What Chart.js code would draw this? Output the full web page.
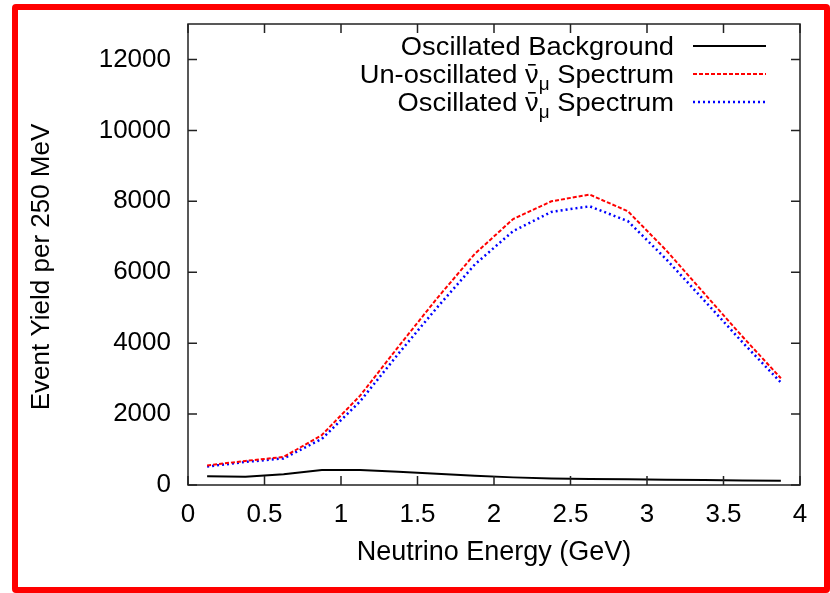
<!DOCTYPE html>
<html>
<head>
<meta charset="utf-8">
<script src="https://cdn.jsdelivr.net/npm/chart.js@4"></script>
<style>
  html, body { margin: 0; padding: 0; background: #fff; }
  #wrap { position: relative; width: 830px; height: 593px; overflow: hidden; }
  #chart { position: absolute; left: 0; top: 0; }
  #frame {
    position: absolute; left: 12px; top: 4px; width: 818px; height: 589px;
    box-sizing: border-box; border: 6px solid #ff0000; border-radius: 4px;
    pointer-events: none;
  }
</style>
</head>
<body>
<div id="wrap">
  <canvas id="chart" width="830" height="593"></canvas>
  <div id="frame"></div>
</div>
<script>
// bin centres (GeV)
const energy = [0.125, 0.375, 0.625, 0.875, 1.125, 1.375, 1.625, 1.875, 2.125, 2.375, 2.625, 2.875, 3.125, 3.375, 3.625, 3.875];
const background = [250, 235, 300, 420, 425, 375, 320, 260, 215, 185, 170, 160, 150, 140, 130, 120];
const unoscillated = [550, 680, 790, 1410, 2520, 3900, 5250, 6520, 7500, 8000, 8190, 7720, 6620, 5400, 4180, 3010];
const oscillated = [520, 650, 750, 1300, 2360, 3700, 4990, 6220, 7160, 7700, 7860, 7440, 6370, 5200, 4020, 2890];

const seriesLabels = ['Oscillated Background', 'Un-oscillated \u03BD\u0304\u03BC Spectrum', 'Oscillated \u03BD\u0304\u03BC Spectrum'];
const xTicks = [0, 0.5, 1, 1.5, 2, 2.5, 3, 3.5, 4];
const yTicks = [0, 2000, 4000, 6000, 8000, 10000, 12000];
const xTitle = 'Neutrino Energy (GeV)';
const yTitle = 'Event Yield per 250 MeV';

const FONT = 'Liberation Sans, Arial, Helvetica, sans-serif';
const STRETCH = 1.05; // the original text is a bit wider than Arial

function pts(vals) {
  return vals.map((v, i) => ({ x: energy[i], y: v }));
}

// stretched text, left aligned at x
function wideText(ctx, s, x, y) {
  ctx.save();
  ctx.translate(x, y);
  ctx.scale(STRETCH, 1);
  ctx.fillText(s, 0, 0);
  ctx.restore();
}
function wideWidth(ctx, s) {
  return ctx.measureText(s).width * STRETCH;
}

// box, inward ticks on all sides, y title, legend
const gnuplotLook = {
  id: 'gnuplotLook',
  afterDraw(chart) {
    const ctx = chart.ctx;
    const a = chart.chartArea;
    const xs = chart.scales.x, ys = chart.scales.y;
    const tl = 9;
    ctx.save();
    ctx.strokeStyle = '#222';
    ctx.lineWidth = 1.5;
    ctx.strokeRect(a.left, a.top, a.right - a.left, a.bottom - a.top);
    ctx.beginPath();
    xTicks.forEach(v => {
      const px = xs.getPixelForValue(v);
      ctx.moveTo(px, a.bottom); ctx.lineTo(px, a.bottom - tl);
      ctx.moveTo(px, a.top); ctx.lineTo(px, a.top + tl);
    });
    yTicks.forEach(v => {
      const py = ys.getPixelForValue(v);
      ctx.moveTo(a.left, py); ctx.lineTo(a.left + tl, py);
      ctx.moveTo(a.right, py); ctx.lineTo(a.right - tl, py);
    });
    ctx.stroke();

    // y title
    ctx.fillStyle = '#000';
    ctx.font = '26px ' + FONT;
    ctx.textAlign = 'center';
    ctx.textBaseline = 'middle';
    ctx.translate(42, 267);
    ctx.rotate(-Math.PI / 2);
    ctx.fillText(yTitle, 0, 0);
    ctx.restore();

    // legend, right aligned text with sample line on the right
    ctx.save();
    ctx.fillStyle = '#000';
    ctx.textBaseline = 'alphabetic';
    ctx.textAlign = 'left';
    const textRight = 674;
    const rowY = [46, 74, 102];
    chart.data.datasets.forEach((ds, i) => {
      const y = rowY[i];
      const base = y + 9;
      const label = ds.label;
      const k = label.indexOf('\u03BD\u0304');
      if (k < 0) {
        ctx.font = '26px ' + FONT;
        wideText(ctx, label, textRight - wideWidth(ctx, label), base);
      } else {
        // "pre" + nu with bar + subscript mu + "post"
        const pre = label.slice(0, k), nu = '\u03BD', sub = label.slice(k + 2, k + 3), post = label.slice(k + 3);
        ctx.font = '26px ' + FONT;
        const wPre = wideWidth(ctx, pre), wNu = wideWidth(ctx, nu), wPost = wideWidth(ctx, post);
        ctx.font = '18px ' + FONT;
        const wSub = wideWidth(ctx, sub);
        let x = textRight - wPost - wSub - wNu - wPre;
        ctx.font = '26px ' + FONT;
        wideText(ctx, pre, x, base);
        x += wPre;
        wideText(ctx, nu, x, base);
        ctx.fillRect(x + 3, base - 19, wNu - 6, 1.6);
        x += wNu;
        ctx.font = '18px ' + FONT;
        wideText(ctx, sub, x, base + 7);
        x += wSub;
        ctx.font = '26px ' + FONT;
        wideText(ctx, post, x, base);
      }
      ctx.beginPath();
      ctx.strokeStyle = ds.borderColor;
      ctx.lineWidth = ds.borderWidth;
      ctx.setLineDash(ds.borderDash || []);
      ctx.moveTo(693, y);
      ctx.lineTo(766, y);
      ctx.stroke();
    });
    ctx.restore();
  }
};

new Chart(document.getElementById('chart').getContext('2d'), {
  type: 'line',
  data: {
    datasets: [
      {
        label: seriesLabels[0],
        data: pts(background),
        borderColor: '#000000',
        borderWidth: 2,
        pointRadius: 0,
        tension: 0
      },
      {
        label: seriesLabels[1],
        data: pts(unoscillated),
        borderColor: '#ff0000',
        borderWidth: 2,
        borderDash: [4, 2],
        pointRadius: 0,
        tension: 0
      },
      {
        label: seriesLabels[2],
        data: pts(oscillated),
        borderColor: '#0000ff',
        borderWidth: 2.5,
        borderDash: [2, 3],
        pointRadius: 0,
        tension: 0
      }
    ]
  },
  options: {
    responsive: false,
    animation: false,
    layout: { padding: { top: 24, right: 30, left: 0, bottom: 0 } },
    plugins: {
      legend: { display: false },
      tooltip: { enabled: false }
    },
    scales: {
      x: {
        type: 'linear',
        min: 0,
        max: 4,
        afterBuildTicks: s => { s.ticks = xTicks.map(v => ({ value: v })); },
        afterFit: s => { s.height = 108; s.paddingLeft = 0; s.paddingRight = 0; },
        grid: { display: false, drawTicks: false },
        border: { display: false },
        ticks: { color: '#000', font: { family: FONT, size: 26 }, padding: 14, maxRotation: 0, callback: v => String(v) },
        title: { display: true, text: xTitle, color: '#000', font: { family: FONT, size: 27 }, padding: { top: 0, bottom: 24 } }
      },
      y: {
        type: 'linear',
        min: 0,
        max: 13000,
        afterBuildTicks: s => { s.ticks = yTicks.map(v => ({ value: v })); },
        afterFit: s => { s.width = 188; s.paddingTop = 0; s.paddingBottom = 0; },
        grid: { display: false, drawTicks: false },
        border: { display: false },
        ticks: { color: '#000', font: { family: FONT, size: 26 }, padding: 17, callback: v => String(v) }
      }
    }
  },
  plugins: [gnuplotLook]
});
</script>
</body>
</html>
